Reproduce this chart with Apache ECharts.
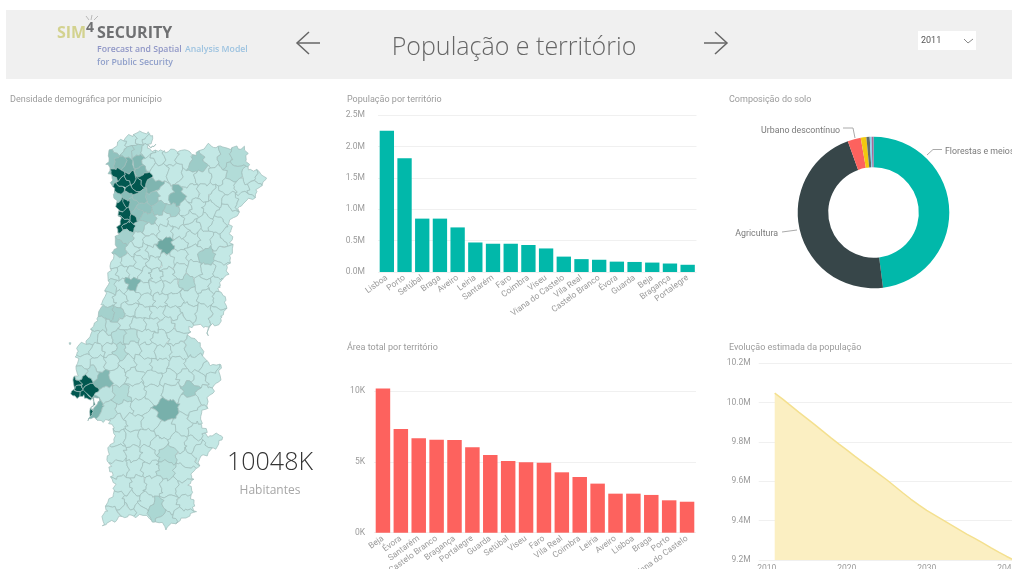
<!DOCTYPE html>
<html>
<head>
<meta charset="utf-8">
<style>
  html, body { margin: 0; padding: 0; background: #fff; }
  #main { width: 1012px; height: 569px; }
</style>
<script src="https://cdn.jsdelivr.net/npm/echarts@6/dist/echarts.min.js"></script>
</head>
<body>
<div id="main"></div>
<script>
// população por território
const popTerritorios = ['Lisboa', 'Porto', 'Setúbal', 'Braga', 'Aveiro', 'Leiria', 'Santarém', 'Faro', 'Coimbra', 'Viseu', 'Viana do Castelo', 'Vila Real', 'Castelo Branco', 'Évora', 'Guarda', 'Beja', 'Bragança', 'Portalegre'];
const popValores = [2250000, 1810000, 850000, 850000, 710000, 470000, 450000, 450000, 430000, 375000, 245000, 205000, 195000, 165000, 160000, 150000, 135000, 115000];

// área total por território
const areaTerritorios = ['Beja', 'Évora', 'Santarém', 'Castelo Branco', 'Bragança', 'Portalegre', 'Guarda', 'Setúbal', 'Viseu', 'Faro', 'Vila Real', 'Coimbra', 'Leiria', 'Aveiro', 'Lisboa', 'Braga', 'Porto', 'Viana do Castelo'];
const areaValores = [10200, 7330, 6670, 6580, 6560, 6040, 5500, 5070, 4980, 4950, 4270, 3940, 3470, 2760, 2760, 2670, 2290, 2190];

// composição do solo
const soloNomes = ['Florestas e meios', 'Agricultura', 'Urbano descontínuo', 'Urbano contínuo', 'Indústria', 'Águas', 'Zonas húmidas'];
const soloValores = [48, 46.5, 2.8, 1.2, 0.7, 0.4, 0.4];
const soloCores = ['#01B8AA', '#374649', '#FD625E', '#F2C80F', '#5F6B6D', '#8AD4EB', '#A66999'];

// evolução estimada da população
const anos = [2009, 2010, 2011, 2012, 2013, 2014, 2015, 2016, 2017, 2018, 2019, 2020, 2021, 2022, 2023, 2024, 2025, 2026, 2027, 2028, 2029, 2030, 2031, 2032, 2033, 2034, 2035, 2036, 2037, 2038, 2039, 2040, 2041];
const populacao = [null, null, 10048000, 10018000, 9985000, 9952000, 9920000, 9888000, 9855000, 9822000, 9790000, 9760000, 9728000, 9698000, 9668000, 9638000, 9608000, 9575000, 9542000, 9510000, 9480000, 9452000, 9428000, 9404000, 9380000, 9356000, 9332000, 9310000, 9287000, 9263000, 9240000, 9218000, 9197000];

// densidade por município (hab/km2, estimada pelo tom do mapa), mesma ordem de sedes
const densidade = [
  300, 300, 300, 300, 1000, 1000, 300,
  1800, 2200, 2500, 2200, 300, 300, 300,
  1800, 6000, 6000, 2300, 2200, 300, 300,
  1500, 2000, 2000, 1800, 300, 2200,
  6000, 2000, 1800, 1500, 1200, 300,
  6000, 1800, 1500, 300, 300,
  6000, 1200, 300, 300,
  1200, 300, 300, 300, 300,
  300, 1400, 300, 800, 800, 800, 300, 300,
  300, 300, 300, 300, 300, 300,
  300, 300, 300, 300, 300,
  300, 300, 300, 300, 300, 300, 300,
  1500, 300, 300, 300, 2800, 300, 300, 300, 300,
  300, 300, 300, 300, 300, 300, 300, 1200, 300,
  300, 300, 300, 300, 300, 300, 300, 300, 300, 300,
  600, 300, 2400, 300, 300, 300, 900, 300, 300,
  300, 300, 300, 300, 300, 300, 300, 300, 300,
  1200, 1200, 300, 300, 300, 300, 300, 300, 300,
  600, 500, 300, 300, 300, 300, 300,
  500, 300, 700, 600, 300, 300, 300,
  400, 300, 300, 800, 300, 300, 300, 300, 500,
  300, 300, 300, 300, 300, 300, 300, 300, 300,
  600, 700, 2200, 300, 300, 300, 300, 300, 300, 300,
  6000, 6000, 500, 800, 300, 300, 300, 1400, 300,
  6000, 2400, 600, 300, 300, 2500, 300, 300,
  300, 300, 300, 300, 300, 300, 300,
  300, 300, 300, 300, 300, 300,
  300, 300, 300, 800, 300, 300,
  300, 300, 300, 600, 300,
  300, 300, 300, 300, 300,
  300, 300, 300, 1000, 300, 300,
  300, 300, 300, 500, 300,
  6000, 6000, 6000, 6000, 6000, 6000, 6000, 6000, 6000, 6000, 6000, 6000
];

// geometria do mapa, em unidades do próprio mapa
const contorno = [[108,155],[120,140],[137,133],[147,132],[153,138],[147,147],[160,152],[180,150],[197,155],[207,145],[223,148],[245,148],[248,167],[267,177],[253,197],[242,205],[230,223],[232,247],[227,273],[217,290],[226,300],[225,313],[218,325],[207,327],[190,327],[188,337],[200,343],[205,363],[220,368],[220,377],[215,387],[208,403],[200,420],[208,437],[222,437],[220,445],[203,457],[192,477],[190,488],[195,513],[167,530],[143,518],[123,518],[102,527],[107,507],[115,493],[112,480],[107,455],[115,437],[110,423],[88,420],[90,412],[100,405],[96,400],[72,397],[74,383],[77,373],[77,348],[87,343],[100,313],[107,287],[115,247],[120,220],[115,197],[108,163]];
const sedes = [
  [122,147],[131,141],[141,137],[148,141],[128,152],[137,151],[147,150],
  [112,159],[120,163],[129,166],[138,162],[148,163],[158,158],[170,158],
  [112,180],[124,182],[137,185],[152,186],[140,172],[160,172],[175,172],
  [115,197],[127,196],[140,198],[152,200],[165,196],[176,199],
  [121,205],[131,206],[144,208],[158,210],[172,211],[185,210],
  [126,215],[136,216],[148,218],[162,220],[176,222],
  [129,226],[139,227],[151,230],[165,232],
  [128,237],[138,240],[150,241],[180,234],[193,226],
  [184,160],[196,165],[212,157],[224,158],[238,158],[234,172],[250,178],[262,178],
  [188,178],[203,178],[218,176],[228,188],[242,188],[254,186],
  [192,193],[205,192],[216,198],[230,200],[243,199],
  [197,208],[210,210],[224,214],[190,220],[205,222],[218,226],[228,235],
  [121,250],[132,250],[143,253],[152,252],[165,246],[181,244],[192,240],[205,240],[218,243],
  [116,262],[128,261],[140,263],[154,264],[167,263],[180,258],[193,254],[206,258],[222,255],
  [112,275],[123,273],[134,274],[145,276],[156,276],[168,276],[180,272],[194,270],[208,272],[220,272],
  [110,287],[121,287],[132,285],[144,289],[156,289],[170,288],[187,282],[203,285],[216,285],
  [108,300],[120,299],[133,298],[147,301],[160,301],[174,301],[190,298],[206,298],[220,302],
  [108,314],[118,316],[130,311],[143,313],[157,314],[172,314],[188,312],[204,314],[218,316],
  [100,325],[112,329],[125,324],[138,325],[152,326],[166,326],[180,324],
  [92,338],[105,340],[118,337],[131,337],[145,338],[160,339],[175,338],
  [84,350],[97,352],[110,351],[119,354],[133,350],[148,352],[163,354],[178,352],[193,350],
  [84,363],[98,364],[112,363],[127,364],[143,365],[160,367],[177,366],[195,365],[208,372],
  [81,375],[92,375],[102,382],[118,377],[135,378],[152,380],[170,380],[185,378],[200,380],[213,378],
  [78,390],[90,391],[105,396],[121,397],[137,393],[153,393],[172,392],[191,390],[204,395],
  [88,406],[97,407],[108,412],[124,410],[140,408],[166,411],[190,405],[198,418],
  [118,425],[134,424],[150,423],[166,432],[183,427],[197,432],[212,442],
  [118,440],[132,440],[146,440],[158,446],[178,445],[193,447],
  [118,455],[133,455],[148,456],[168,456],[186,460],[200,452],
  [120,470],[135,470],[150,471],[166,472],[182,475],
  [123,487],[138,486],[153,487],[170,489],[184,490],
  [117,504],[131,504],[146,506],[156,512],[171,507],[185,505],
  [110,517],[127,512],[142,513],[168,522],[182,517],
  [118,176],[130,178],[143,180],[119,190],[131,191],[127,204],[123,222],[133,220],[76,385],[86,383],[84,398],[75,394]
];
const ilha = [[69,344],[71,344],[70,346]];

// corta o poligono pela mediatriz entre a e b, fica o lado de a
const cortar = (poli, a, b) => {
  let mx = (a[0] + b[0]) / 2, my = (a[1] + b[1]) / 2;
  let nx = b[0] - a[0], ny = b[1] - a[1];
  const lado = p => (p[0] - mx) * nx + (p[1] - my) * ny;
  let res = [];
  for (let i = 0; i < poli.length; i++) {
    let p = poli[i], q = poli[(i + 1) % poli.length];
    let dp = lado(p), dq = lado(q);
    if (dp <= 0) res.push(p);
    if ((dp < 0 && dq > 0) || (dp > 0 && dq < 0)) {
      let t = dp / (dp - dq);
      res.push([p[0] + (q[0] - p[0]) * t, p[1] + (q[1] - p[1]) * t]);
    }
  }
  return res;
}

// fronteiras irregulares: parte as arestas e desloca os pontos conforme a posição
const ondular = (poli) => {
  const desloca = (x, y) => [
    x + 1.5 * Math.sin(y * 0.55 + x * 0.2) + 0.9 * Math.sin(y * 1.3 - x * 0.7),
    y + 1.5 * Math.sin(x * 0.5 - y * 0.25) + 0.9 * Math.sin(x * 1.2 + y * 0.8)
  ];
  let res = [];
  for (let i = 0; i < poli.length; i++) {
    let p = poli[i], q = poli[(i + 1) % poli.length];
    let n = Math.max(1, Math.round(Math.hypot(q[0] - p[0], q[1] - p[1]) / 2.5));
    for (let k = 0; k < n; k++) {
      res.push(desloca(p[0] + (q[0] - p[0]) * k / n, p[1] + (q[1] - p[1]) * k / n));
    }
  }
  return res;
}

const features = sedes.map((s, i) => {
  let poli = contorno;
  sedes.forEach((o, j) => {
    if (j !== i && poli.length) poli = cortar(poli, s, o);
  });
  poli = ondular(poli);
  return {
    type: 'Feature',
    properties: { name: 'm' + i },
    geometry: { type: 'Polygon', coordinates: [poli.concat([poli[0]])] }
  };
});
features.push({
  type: 'Feature',
  properties: { name: 'ilha' },
  geometry: { type: 'Polygon', coordinates: [ilha.concat([ilha[0]])] }
});
echarts.registerMap('portugal', { type: 'FeatureCollection', features: features });

const dadosMapa = densidade.map((v, i) => ({ name: 'm' + i, value: v }));
dadosMapa.push({ name: 'ilha', value: 300 });

const fonte = 'Roboto, sans-serif';
const fonteTitulo = '"Open Sans", sans-serif';
const cinza = '#9b9b9b';
const linhaGrelha = '#f0f0f0';

const tituloPainel = (text, left, top) => ({
  text, left, top,
  textStyle: { fontFamily: fonte, fontSize: 9, fontWeight: 'normal', color: cinza }
});

const eixoCategorias = (data, gridIndex) => ({
  type: 'category', gridIndex, data,
  axisLine: { show: false }, axisTick: { show: false },
  axisLabel: { interval: 0, rotate: 36, fontFamily: fonte, fontSize: 8.5, color: cinza, margin: 5 }
});

const seta = (x1, x2, y) => {
  // seta desenhada com duas polilinhas
  let dir = x2 > x1 ? -1 : 1;
  return [
    { type: 'polyline', shape: { points: [[x1, y], [x2, y]] }, style: { stroke: '#666', lineWidth: 1.5, fill: null } },
    { type: 'polyline', shape: { points: [[x2 + dir * 12, y - 11], [x2, y], [x2 + dir * 12, y + 11]] }, style: { stroke: '#666', lineWidth: 1.5, fill: null } }
  ];
}

// linha de ligação e texto das etiquetas do donut
const guia = (pontos) => ({ type: 'polyline', shape: { points: pontos }, style: { stroke: '#aaa', lineWidth: 1, fill: null } });
const etiqueta = (text, x, y, align) => ({
  type: 'text', x, y,
  style: { text, x: 0, y: 0, align, verticalAlign: 'middle', fontFamily: fonte, fontSize: 8.8, fill: '#7a7a7a' }
});

const myChart = echarts.init(document.getElementById('main'), null, { renderer: 'canvas' });

myChart.setOption({
  animation: false,
  backgroundColor: '#fff',
  textStyle: { fontFamily: fonte },
  title: [
    tituloPainel('Densidade demográfica por município', 5, 90),
    tituloPainel('População por território', 342, 90),
    tituloPainel('Composição do solo', 724, 90),
    tituloPainel('Área total por território', 342, 338),
    tituloPainel('Evolução estimada da população', 724, 338)
  ],
  grid: [
    { left: 378, top: 115, width: 318.5, height: 157, outerBoundsMode: 'none' },
    { left: 374, top: 384.2, width: 322, height: 148.5, outerBoundsMode: 'none' },
    { left: 758.7, top: 363.3, width: 256, height: 196.7, outerBoundsMode: 'none' }
  ],
  xAxis: [
    eixoCategorias(popTerritorios, 0),
    eixoCategorias(areaTerritorios, 1),
    {
      type: 'category', gridIndex: 2, data: anos, boundaryGap: false,
      axisLine: { show: false }, axisTick: { show: false },
      axisLabel: {
        interval: (i, v) => Number(v) % 10 === 0,
        fontFamily: fonte, fontSize: 8.5, color: cinza, margin: 4
      }
    }
  ],
  yAxis: [
    {
      type: 'value', gridIndex: 0, min: 0, max: 2500000, interval: 500000,
      axisLabel: { formatter: v => (v / 1000000).toFixed(1) + 'M', fontFamily: fonte, fontSize: 8.5, color: cinza, margin: 13 },
      splitLine: { lineStyle: { color: linhaGrelha } }
    },
    {
      type: 'value', gridIndex: 1, min: 0, max: 10500, interval: 5000,
      axisLabel: { formatter: v => (v / 1000) + 'K', showMaxLabel: false, fontFamily: fonte, fontSize: 8.5, color: cinza, margin: 9 },
      splitLine: { showMaxLine: false, lineStyle: { color: linhaGrelha } }
    },
    {
      type: 'value', gridIndex: 2, min: 9200000, max: 10200000, interval: 200000,
      axisLabel: { formatter: v => (v / 1000000).toFixed(1) + 'M', fontFamily: fonte, fontSize: 8.5, color: cinza, margin: 8 },
      splitLine: { lineStyle: { color: linhaGrelha } }
    }
  ],
  visualMap: {
    show: false, seriesIndex: 0, min: 0, max: 6000,
    inRange: { color: ['#cdf0ed', '#01574f'] }
  },
  series: [
    {
      type: 'map', map: 'portugal', silent: true,
      left: 69, top: 131, width: 198, height: 399,
      projection: { project: p => [p[0], p[1]], unproject: p => [p[0], p[1]] },
      itemStyle: { borderColor: '#9dbcb9', borderWidth: 0.7 },
      label: { show: false },
      data: dadosMapa
    },
    {
      type: 'bar', xAxisIndex: 0, yAxisIndex: 0, data: popValores,
      barCategoryGap: '19%', itemStyle: { color: '#01B8AA' }
    },
    {
      type: 'bar', xAxisIndex: 1, yAxisIndex: 1, data: areaValores,
      barCategoryGap: '19%', itemStyle: { color: '#FD625E' }
    },
    {
      type: 'pie', center: [873.5, 212.5], radius: [45.3, 75.8], startAngle: 90,
      silent: true,
      data: soloNomes.map((n, i) => ({ name: n, value: soloValores[i], itemStyle: { color: soloCores[i] } })),
      label: { show: false },
      labelLine: { show: false }
    },
    {
      type: 'line', xAxisIndex: 2, yAxisIndex: 2, data: populacao, showSymbol: false,
      lineStyle: { color: '#f4e08f', width: 1.5 },
      areaStyle: { color: '#fbefc2', opacity: 1 }
    }
  ],
  graphic: [
    { type: 'rect', z: -1, shape: { x: 6, y: 10, width: 1006, height: 69 }, style: { fill: '#f0f0f0' } },
    // logo
    { type: 'text', x: 57, y: 25, style: { text: 'SIM', fontFamily: fonteTitulo, fontSize: 16, fontWeight: 'bold', fill: '#d3d28f' } },
    { type: 'text', x: 86, y: 21, style: { text: '4', fontFamily: fonteTitulo, fontSize: 14, fontWeight: 'bold', fill: '#6f7072' } },
    { type: 'text', x: 97, y: 25, style: { text: 'SECURITY', fontFamily: fonteTitulo, fontSize: 16, fontWeight: 'bold', fill: '#6f7072' } },
    { type: 'polyline', shape: { points: [[86, 16], [89, 20]] }, style: { stroke: '#b9b9b9', lineWidth: 1, fill: null } },
    { type: 'polyline', shape: { points: [[92, 15], [91, 20]] }, style: { stroke: '#b9b9b9', lineWidth: 1, fill: null } },
    { type: 'polyline', shape: { points: [[98, 16], [94, 20]] }, style: { stroke: '#b9b9b9', lineWidth: 1, fill: null } },
    {
      type: 'text', x: 97, y: 44,
      style: {
        text: '{a|Forecast and Spatial} {b|Analysis Model}',
        rich: {
          a: { fontFamily: fonteTitulo, fontSize: 8.7, fontWeight: 600, fill: '#8f96c6', color: '#8f96c6' },
          b: { fontFamily: fonteTitulo, fontSize: 8.7, fontWeight: 600, fill: '#9dc3e0', color: '#9dc3e0' }
        }
      }
    },
    { type: 'text', x: 97, y: 58, style: { text: 'for Public Security', fontFamily: fonteTitulo, fontSize: 8.7, fontWeight: 600, fill: '#8f9fca' } },
    // cabeçalho
    ...seta(320, 297, 43),
    ...seta(704, 727, 43),
    { type: 'text', x: 514, y: 48, style: { text: 'População e território', fontFamily: fonteTitulo, fontSize: 25, fontWeight: 300, fill: '#666', align: 'center', verticalAlign: 'middle' } },
    { type: 'rect', shape: { x: 918, y: 31, width: 58, height: 19 }, style: { fill: '#fff' } },
    { type: 'text', x: 921, y: 41, style: { text: '2011', fontFamily: fonte, fontSize: 9, fill: '#555', verticalAlign: 'middle' } },
    { type: 'polyline', shape: { points: [[964, 39], [968, 43], [973, 39]] }, style: { stroke: '#888', lineWidth: 1, fill: null } },
    // etiquetas do donut
    guia([[927, 155], [933, 149.5], [942, 149.5]]),
    etiqueta(soloNomes[0], 945, 152, 'left'),
    guia([[782, 232], [797, 230]]),
    etiqueta(soloNomes[1], 778, 234, 'right'),
    guia([[843, 128], [853, 128], [855, 138]]),
    etiqueta(soloNomes[2], 840, 131, 'right'),
    // cartão
    { type: 'text', x: 270, y: 463, style: { text: '10048K', fontFamily: fonteTitulo, fontSize: 25, fontWeight: 300, fill: '#333', align: 'center', verticalAlign: 'middle' } },
    { type: 'text', x: 270, y: 491, style: { text: 'Habitantes', fontFamily: fonteTitulo, fontSize: 12, fill: '#a6a6a6', align: 'center', verticalAlign: 'middle' } }
  ]
});
</script>
</body>
</html>
